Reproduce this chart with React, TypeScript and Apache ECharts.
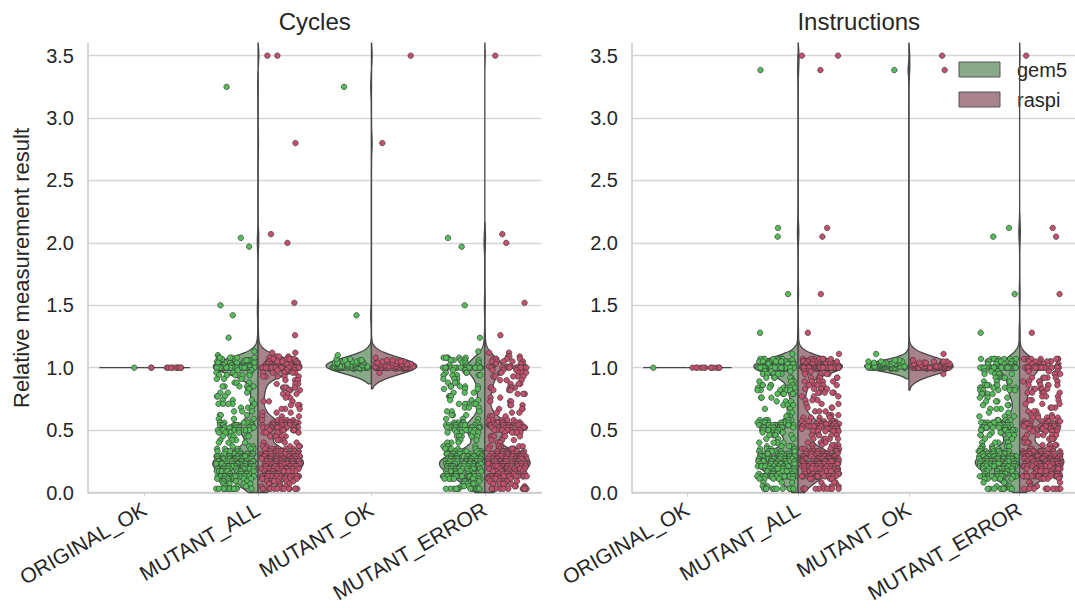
import React, { useEffect, useRef } from 'react';
import * as echarts from 'echarts';

// ---------------- data ----------------
const categories = ['ORIGINAL_OK', 'MUTANT_ALL', 'MUTANT_OK', 'MUTANT_ERROR'];
const panelTitles = ['Cycles', 'Instructions'];
const hueNames = ['gem5', 'raspi'];
const yAxisName = 'Relative measurement result';
const yMin = 0;
const yMax = 3.6;
const yStep = 0.5;

type Pairs = [number, number][]; // [value, number of runs with that value]

// Cycles
const cyclesOriginalGem5: Pairs = [[1.0, 1]];
const cyclesOriginalRaspi: Pairs = [[1.0, 12]];
const cyclesOkGem5: Pairs = [
  [0.99, 3], [1.0, 30], [1.01, 8], [1.02, 7], [1.03, 6], [1.04, 5], [1.05, 4], [1.06, 3], [1.07, 2],
  [1.1, 1], [1.42, 1], [3.25, 1],
];
const cyclesOkRaspi: Pairs = [
  [0.96, 1], [0.99, 3], [1.0, 32], [1.01, 8], [1.02, 7], [1.03, 6], [1.04, 5], [1.05, 4], [1.06, 2],
  [1.08, 1], [2.8, 1], [3.5, 1],
];
const cyclesErrorGem5: Pairs = [
  [2.04, 1], [1.97, 1], [1.5, 1], [1.24, 1], [1.13, 1],
  [1.08, 6], [1.06, 5], [1.04, 3], [1.02, 3], [1.0, 22], [0.98, 3], [0.96, 3], [0.94, 5], [0.91, 3],
  [0.88, 3], [0.85, 5], [0.83, 3], [0.8, 3], [0.77, 3], [0.74, 3], [0.71, 5], [0.68, 3], [0.65, 3],
  [0.62, 3], [0.59, 3], [0.56, 6], [0.54, 10], [0.52, 11], [0.5, 10], [0.48, 5], [0.45, 5], [0.42, 3],
  [0.4, 3], [0.37, 3], [0.35, 5], [0.33, 6], [0.31, 10], [0.29, 14], [0.27, 19], [0.25, 19], [0.23, 19],
  [0.21, 16], [0.19, 13], [0.17, 10], [0.15, 6], [0.13, 22], [0.11, 8], [0.09, 6], [0.07, 5], [0.05, 3],
  [0.03, 14],
];
const cyclesErrorRaspi: Pairs = [
  [3.5, 1], [2.07, 1], [2.0, 1], [1.52, 1], [1.26, 1], [1.12, 2],
  [1.09, 3], [1.07, 5], [1.05, 5], [1.03, 3], [1.01, 5], [1.0, 19], [0.98, 3], [0.96, 5], [0.93, 5],
  [0.9, 3], [0.87, 3], [0.84, 5], [0.82, 3], [0.79, 3], [0.76, 2], [0.73, 3], [0.7, 3], [0.67, 3],
  [0.64, 3], [0.61, 3], [0.58, 5], [0.56, 10], [0.54, 13], [0.52, 13], [0.5, 10], [0.48, 5], [0.45, 5],
  [0.42, 3], [0.4, 3], [0.37, 5], [0.35, 6], [0.33, 10], [0.31, 13], [0.29, 16], [0.27, 19], [0.25, 19],
  [0.23, 19], [0.21, 16], [0.19, 13], [0.17, 10], [0.15, 8], [0.13, 22], [0.11, 8], [0.09, 6], [0.07, 5],
  [0.05, 3], [0.03, 13],
];

// Instructions
const instrOriginalGem5: Pairs = [[1.0, 1]];
const instrOriginalRaspi: Pairs = [[1.0, 12]];
const instrOkGem5: Pairs = [
  [0.99, 3], [1.0, 28], [1.01, 9], [1.02, 8], [1.03, 7], [1.04, 5], [1.05, 3], [1.06, 2], [1.11, 1],
  [3.385, 1],
];
const instrOkRaspi: Pairs = [
  [0.95, 1], [0.99, 3], [1.0, 30], [1.01, 9], [1.02, 8], [1.03, 7], [1.04, 5], [1.05, 3], [1.06, 2],
  [1.11, 1], [3.385, 1], [3.5, 1],
];
const instrErrorGem5: Pairs = [
  [2.12, 1], [2.05, 1], [1.59, 1], [1.28, 1],
  [1.07, 8], [1.05, 6], [1.03, 5], [1.01, 3], [1.0, 22], [0.97, 3], [0.95, 5], [0.92, 5], [0.89, 3],
  [0.86, 5], [0.84, 6], [0.82, 5], [0.79, 5], [0.76, 3], [0.73, 3], [0.7, 3], [0.67, 3], [0.64, 2],
  [0.61, 3], [0.58, 5], [0.56, 8], [0.54, 11], [0.52, 11], [0.5, 8], [0.48, 5], [0.46, 5], [0.43, 3],
  [0.4, 5], [0.37, 5], [0.35, 5], [0.33, 8], [0.31, 11], [0.29, 14], [0.27, 19], [0.25, 18], [0.23, 16],
  [0.21, 14], [0.19, 11], [0.17, 8], [0.15, 6], [0.13, 24], [0.11, 5], [0.08, 3], [0.05, 2], [0.03, 10],
];
const instrErrorRaspi: Pairs = [
  [3.5, 1], [2.12, 1], [2.05, 1], [1.59, 1], [1.28, 1],
  [1.07, 8], [1.05, 6], [1.03, 5], [1.01, 5], [1.0, 21], [0.97, 3], [0.95, 3], [0.92, 5], [0.89, 5],
  [0.86, 5], [0.83, 5], [0.8, 5], [0.77, 3], [0.74, 3], [0.71, 3], [0.68, 3], [0.65, 3], [0.62, 3],
  [0.6, 5], [0.57, 8], [0.55, 11], [0.53, 13], [0.51, 10], [0.49, 6], [0.46, 5], [0.43, 5], [0.4, 3],
  [0.38, 5], [0.35, 6], [0.33, 10], [0.31, 13], [0.29, 16], [0.27, 19], [0.25, 19], [0.23, 18],
  [0.21, 14], [0.19, 11], [0.17, 8], [0.15, 6], [0.13, 24], [0.11, 5], [0.08, 3], [0.05, 3], [0.03, 10],
];

// KDE bandwidths per category [gem5, raspi]
const cyclesBandwidths = [[0.05, 0.05], [0.06, 0.06], [0.06, 0.065], [0.06, 0.06]];
const instrBandwidths = [[0.05, 0.05], [0.06, 0.06], [0.04, 0.065], [0.06, 0.06]];

// ---------------- styling ----------------
const FONT = '"Liberation Sans", Arial, Helvetica, sans-serif';
const TEXT = '#262626';
const violinColors = ['#88aa88', '#a8838b'];
const pointColors = ['#55bd5a', '#c8506e'];
const EDGE = '#474747';
const gridLefts = [88, 632];
const gridWidth = 453.5;

// ---------------- helpers ----------------
function expand(p: Pairs): number[] {
  const out: number[] = [];
  for (const [v, c] of p) for (let k = 0; k < c; k++) out.push(v);
  return out;
}

type Profile = { single?: number; ys?: number[]; ws?: number[] } | null;

function violinProfile(vals: number[], bw: number): Profile {
  if (!vals.length) return null;
  let mn = Infinity, mx = -Infinity;
  for (const v of vals) { if (v < mn) mn = v; if (v > mx) mx = v; }
  if (mn === mx) return { single: mn };
  const lo = Math.max(yMin, mn - 2 * bw);
  const hi = Math.min(yMax, mx + 2 * bw);
  const step = 0.004;
  const n = Math.ceil((hi - lo) / step) + 1;
  const ys: number[] = [];
  const ws: number[] = [];
  let dmax = 0;
  for (let i = 0; i < n; i++) {
    const y = Math.min(hi, lo + i * step);
    let d = 0;
    for (const v of vals) {
      const z = (y - v) / bw;
      d += Math.exp(-0.5 * z * z);
    }
    ys.push(y);
    ws.push(d);
    if (d > dmax) dmax = d;
  }
  for (let i = 0; i < n; i++) ws[i] /= dmax;
  return { ys, ws };
}

function jitter(i: number, seed: number): number {
  const s = Math.sin(i * 127.1 + seed * 311.7) * 43758.5453;
  return s - Math.floor(s);
}

type PanelData = { groups: number[][][]; bws: number[][] };

function panel(
  origG: Pairs, origR: Pairs, okG: Pairs, okR: Pairs, errG: Pairs, errR: Pairs, bws: number[][]
): PanelData {
  const og = expand(origG), orr = expand(origR);
  const kg = expand(okG), kr = expand(okR);
  const eg = expand(errG), er = expand(errR);
  return {
    // groups[category][hue]; MUTANT_ALL is the union of MUTANT_OK and MUTANT_ERROR
    groups: [
      [og, orr],
      [kg.concat(eg), kr.concat(er)],
      [kg, kr],
      [eg, er],
    ],
    bws,
  };
}

const panels: PanelData[] = [
  panel(cyclesOriginalGem5, cyclesOriginalRaspi, cyclesOkGem5, cyclesOkRaspi, cyclesErrorGem5, cyclesErrorRaspi, cyclesBandwidths),
  panel(instrOriginalGem5, instrOriginalRaspi, instrOkGem5, instrOkRaspi, instrErrorGem5, instrErrorRaspi, instrBandwidths),
];

function buildOption() {
  const grids: any[] = [];
  const xAxes: any[] = [];
  const yAxes: any[] = [];
  const series: any[] = [];
  const titles: any[] = [];

  panels.forEach((pd, p) => {
    grids.push({ left: gridLefts[p], top: 43.2, width: gridWidth, height: 449.3 });
    titles.push({
      text: panelTitles[p],
      left: gridLefts[p] + gridWidth / 2,
      top: 9,
      padding: 0,
      textAlign: 'center',
      textStyle: { fontSize: 24, fontWeight: 'normal', color: TEXT, fontFamily: FONT },
    });
    xAxes.push({
      type: 'category',
      gridIndex: p,
      data: categories,
      boundaryGap: true,
      axisLine: { show: true, onZero: false, lineStyle: { color: '#cccccc', width: 1.6 } },
      axisTick: { show: true, alignWithLabel: true, length: 4, lineStyle: { color: '#cccccc' } },
      axisLabel: { rotate: 30, fontSize: 21, color: TEXT, margin: 15, fontFamily: FONT },
      splitLine: { show: false },
    });
    xAxes.push({
      type: 'value', gridIndex: p, min: -0.5, max: 3.5, show: false,
      splitLine: { show: false }, axisLine: { show: false, onZero: false }, axisTick: { show: false },
      axisLabel: { show: false },
    });
    yAxes.push({
      type: 'value',
      gridIndex: p,
      min: yMin,
      max: yMax,
      interval: yStep,
      axisLine: { show: true, onZero: false, lineStyle: { color: '#cccccc', width: 1.6 } },
      axisTick: { show: false },
      axisLabel: {
        fontSize: 20, color: TEXT, margin: 14, fontFamily: FONT, showMaxLabel: false,
        formatter: (v: number) => (v > 3.55 ? '' : v.toFixed(1)),
      },
      splitLine: { show: true, showMaxLine: false, lineStyle: { color: '#d6d6d6', width: 1.3 } },
    });

    const xIdx = p * 2 + 1;
    [0, 1].forEach((h) => {
      const profiles: Profile[] = categories.map((_, c) => violinProfile(pd.groups[c][h], pd.bws[c][h]));
      const sign = h === 0 ? -1 : 1;
      series.push({
        type: 'custom',
        name: hueNames[h],
        xAxisIndex: xIdx,
        yAxisIndex: p,
        z: 2,
        silent: true,
        itemStyle: { color: violinColors[h], borderColor: EDGE },
        encode: { x: 0, y: 1 },
        data: categories.map((_, c) => [c, 1]),
        renderItem: (params: any, api: any) => {
          const c = api.value(0);
          const prof = profiles[c];
          if (!prof) return null;
          if (prof.single !== undefined) {
            const a = api.coord([c, prof.single]);
            const b = api.coord([c + sign * 0.4, prof.single]);
            return {
              type: 'line',
              shape: { x1: a[0], y1: a[1], x2: b[0], y2: b[1] },
              style: { stroke: EDGE, lineWidth: 1.3 },
            };
          }
          const ys = prof.ys!, ws = prof.ws!;
          const pts: number[][] = [api.coord([c, ys[0]])];
          for (let k = 0; k < ys.length; k++) pts.push(api.coord([c + sign * 0.4 * ws[k], ys[k]]));
          pts.push(api.coord([c, ys[ys.length - 1]]));
          return {
            type: 'polygon',
            shape: { points: pts },
            style: { fill: violinColors[h], stroke: EDGE, lineWidth: 1.3 },
          };
        },
      });
    });

    [0, 1].forEach((h) => {
      const pts: number[][] = [];
      const off = h === 0 ? -0.2 : 0.2;
      categories.forEach((_, c) => {
        const vals = pd.groups[c][h];
        vals.forEach((v, i) => {
          const j = (jitter(i, p * 10 + c * 3 + h + 1) * 2 - 1) * 0.17;
          pts.push([c + off + j, v]);
        });
      });
      series.push({
        type: 'scatter',
        name: hueNames[h] + ' runs',
        xAxisIndex: xIdx,
        yAxisIndex: p,
        z: 3,
        silent: true,
        symbol: 'circle',
        symbolSize: 5.5,
        itemStyle: { color: pointColors[h], borderColor: '#3c3c3c', borderWidth: 0.7, opacity: 1 },
        data: pts,
      });
    });
  });

  const graphic: any[] = [
    {
      type: 'text',
      x: 21,
      y: 268,
      rotation: Math.PI / 2,
      style: {
        text: yAxisName, fontSize: 22, fill: TEXT, fontFamily: FONT,
        align: 'center', verticalAlign: 'middle',
      },
    },
  ];
  hueNames.forEach((nm, h) => {
    graphic.push({
      type: 'rect',
      z: 1,
      shape: { x: 959, y: 62 + h * 30, width: 41, height: 15 },
      style: { fill: violinColors[h], stroke: '#555555', lineWidth: 1 },
    });
    graphic.push({
      type: 'text',
      z: 1,
      x: 1017,
      y: 69.5 + h * 30,
      style: { text: nm, fontSize: 20, fill: TEXT, fontFamily: FONT, verticalAlign: 'middle' },
    });
  });

  return {
    animation: false,
    backgroundColor: '#ffffff',
    textStyle: { fontFamily: FONT },
    title: titles,
    grid: grids,
    xAxis: xAxes,
    yAxis: yAxes,
    series,
    graphic,
  };
}

export default function App() {
  const ref = useRef<HTMLDivElement>(null);
  useEffect(() => {
    if (!ref.current) return;
    const chart = echarts.init(ref.current, undefined, { renderer: 'svg' });
    chart.setOption(buildOption() as any);
    return () => chart.dispose();
  }, []);
  return (
    <div
      ref={ref}
      style={{ position: 'absolute', left: 0, top: 0, width: 1075, height: 608, background: '#fff' }}
    />
  );
}
